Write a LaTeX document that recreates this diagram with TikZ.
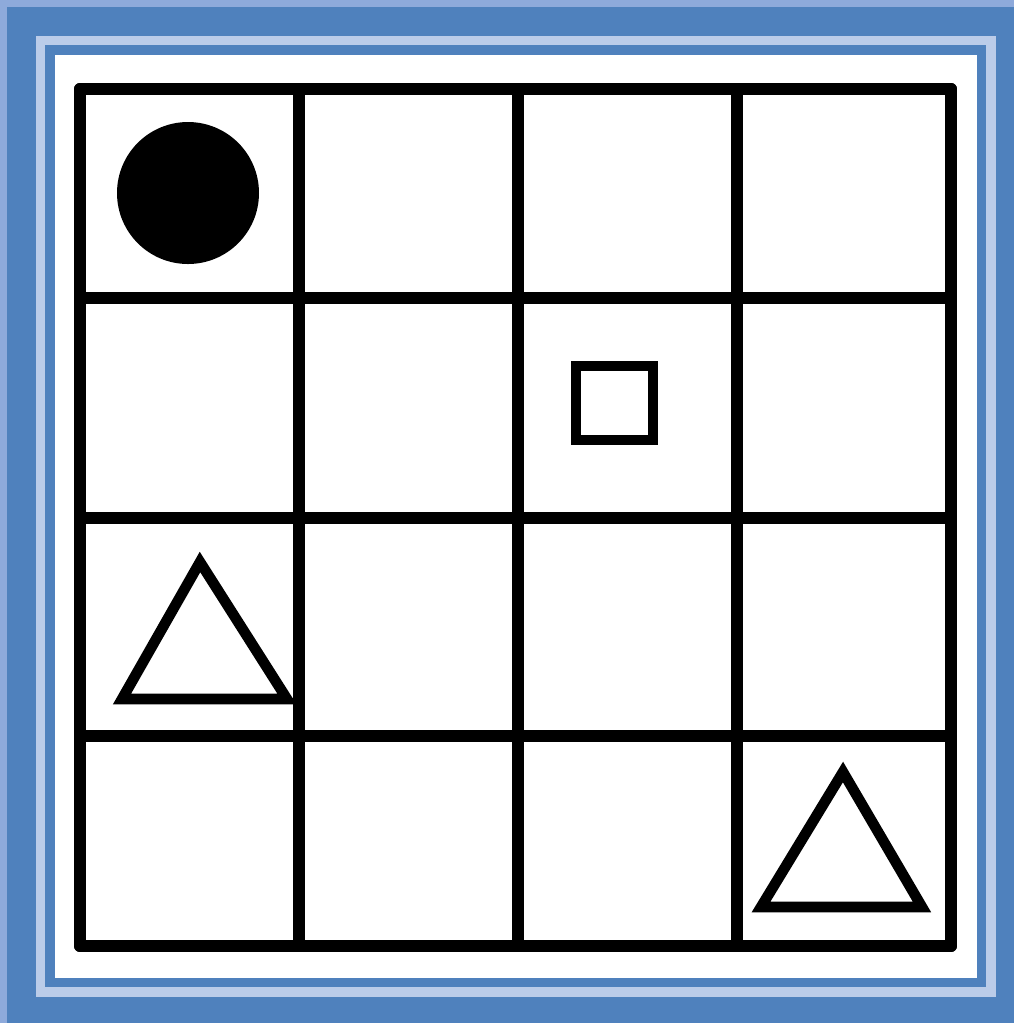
\documentclass[tikz,border=0pt]{standalone}
\usepackage{xcolor}
\usepackage{tikz}
\definecolor{frameblue}{HTML}{4F81BD}
\definecolor{paleblue}{HTML}{8EAADB}

\begin{document}
\begin{tikzpicture}[
    x=0.01cm, y=-0.01cm,
    gridline/.style={line width=3.4pt, line cap=round, line join=round},
    shapeline/.style={line width=3pt, line join=miter}
]
    % frame
    \fill[paleblue] (0,0) rectangle (1014,1023);
    \fill[frameblue] (7,7) rectangle (1014,1023);
    \fill[paleblue!60!white] (36,36) rectangle (996,997);
    \fill[frameblue] (45,45) rectangle (986,987);
    \fill[white] (55,55) rectangle (977,978);
    \useasboundingbox (0,0) rectangle (1014,1023);

    % grid
    \foreach \x in {80,299,518,737,951}
        \draw[gridline] (\x,89) -- (\x,946);
    \foreach \y in {89,298,518,736,946}
        \draw[gridline] (80,\y) -- (951,\y);

    % figures
    \fill (188,193) circle (71);
    \draw[shapeline] (576,366) rectangle (653,440);
    \draw[shapeline] (200,562) -- (122,699) -- (287,699) -- cycle;
    \draw[shapeline] (843,772) -- (761,907) -- (922,907) -- cycle;
\end{tikzpicture}
\end{document}
